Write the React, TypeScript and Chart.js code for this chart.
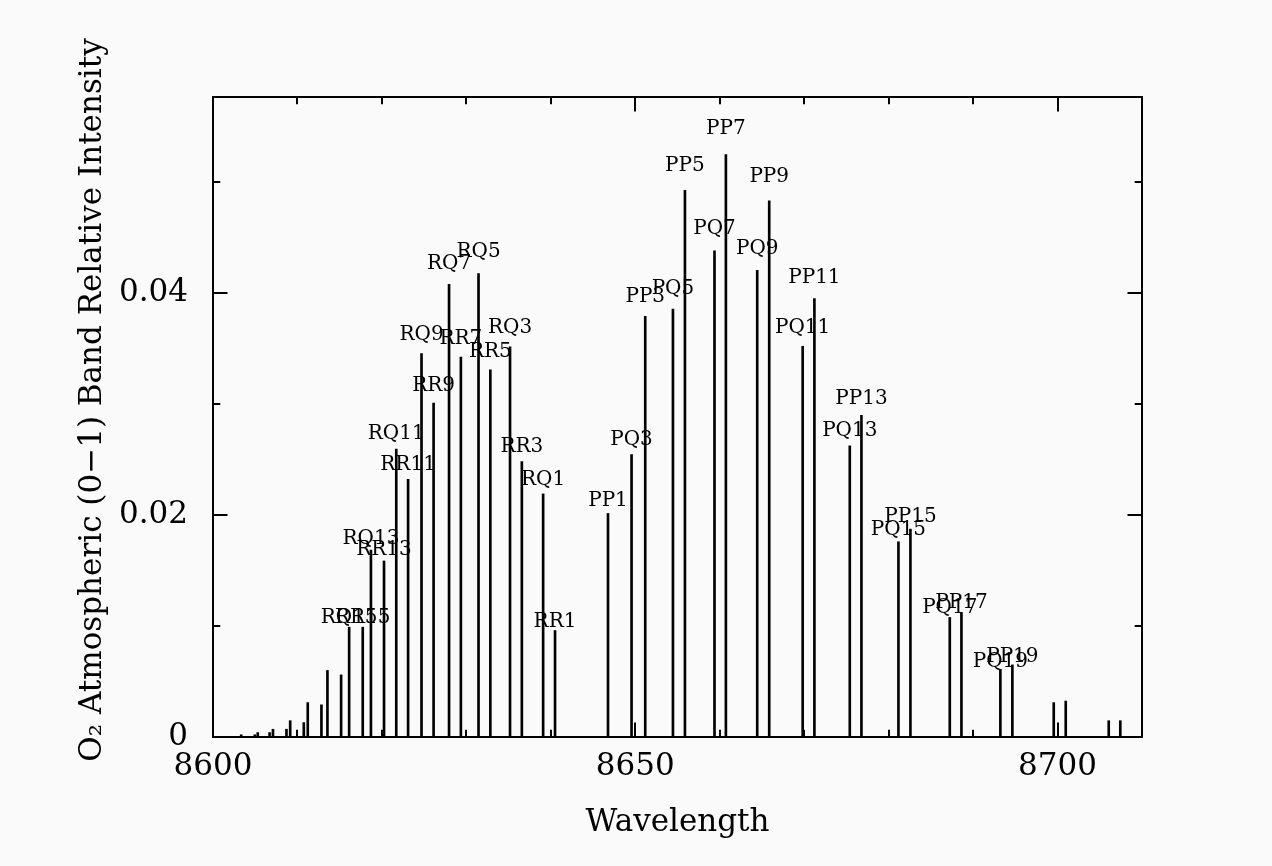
import React, { useEffect, useRef } from "react";
import { Chart, registerables } from "chart.js";

Chart.register(...registerables);

// Labelled rotational lines (wavelength in Å, relative intensity)
const lineWavelengths = [
  8616.12, 8617.73, 8618.70, 8620.25, 8621.70, 8623.10, 8624.69, 8626.12,
  8627.95, 8629.35, 8631.44, 8632.84, 8635.17, 8636.57, 8639.09, 8640.50,
  8646.77, 8649.56, 8651.18, 8654.46, 8655.88, 8659.38, 8660.73, 8664.44,
  8665.86, 8669.82, 8671.21, 8675.40, 8676.78, 8681.16, 8682.58, 8687.24,
  8688.62, 8693.23, 8694.65,
];
const lineIntensities = [
  0.0099, 0.0099, 0.01685, 0.01587, 0.02595, 0.02324, 0.03456, 0.0301,
  0.0408, 0.03426, 0.04177, 0.0331, 0.03517, 0.02484, 0.02192, 0.0096,
  0.02015, 0.02547, 0.03793, 0.03859, 0.04928, 0.04384, 0.0525, 0.04207,
  0.04835, 0.03523, 0.03952, 0.02625, 0.029, 0.0176, 0.01874, 0.01078,
  0.01123, 0.0061, 0.0065,
];
const lineLabels = [
  "RQ15", "RR15", "RQ13", "RR13", "RQ11", "RR11", "RQ9", "RR9",
  "RQ7", "RR7", "RQ5", "RR5", "RQ3", "RR3", "RQ1", "RR1",
  "PP1", "PQ3", "PP3", "PQ5", "PP5", "PQ7", "PP7", "PQ9",
  "PP9", "PQ11", "PP11", "PQ13", "PP13", "PQ15", "PP15", "PQ17",
  "PP17", "PQ19", "PP19",
];

// Weak unlabelled lines
const weakWavelengths = [
  8603.34, 8604.95, 8605.3, 8606.7, 8607.1, 8608.70, 8609.14, 8610.75,
  8611.22, 8612.84, 8613.55, 8615.17, 8699.55, 8700.97, 8706.06, 8707.43,
];
const weakIntensities = [
  0.0002, 0.0002, 0.0004, 0.0004, 0.0007, 0.0007, 0.00147, 0.0013,
  0.0031, 0.0029, 0.006, 0.0056, 0.0031, 0.00324, 0.00147, 0.00147,
];

const xTitle = "Wavelength";
const yTitle = "O₂ Atmospheric (0−1) Band Relative Intensity";

const FONT = "'DejaVu Serif', serif";

const framePlugin = {
  id: "framePlugin",
  beforeDraw(chart: any) {
    const { ctx, width, height } = chart;
    ctx.save();
    ctx.fillStyle = "#fafafa";
    ctx.fillRect(0, 0, width, height);
    ctx.restore();
  },
  afterDatasetsDraw(chart: any) {
    const { ctx } = chart;
    const meta = chart.getDatasetMeta(0);
    const yScale = chart.scales.y;
    ctx.save();
    ctx.fillStyle = "#000";
    ctx.font = `20px ${FONT}`;
    ctx.textAlign = "center";
    ctx.textBaseline = "alphabetic";
    meta.data.forEach((el: any, i: number) => {
      const py = yScale.getPixelForValue(lineIntensities[i] * 1.035);
      ctx.fillText(lineLabels[i], el.x, py);
    });
    ctx.restore();
  },
  afterDraw(chart: any) {
    const { ctx, chartArea } = chart;
    const { left, right, top, bottom } = chartArea;
    const xs = chart.scales.x;
    const ys = chart.scales.y;
    ctx.save();
    ctx.strokeStyle = "#000";
    ctx.lineWidth = 2;
    ctx.strokeRect(left, top, right - left, bottom - top);
    ctx.beginPath();
    xs.ticks.forEach((t: any) => {
      const px = Math.round(xs.getPixelForValue(t.value));
      const major = Math.round(t.value) % 50 === 0;
      const len = major ? 14.5 : 7.3;
      ctx.moveTo(px, bottom);
      ctx.lineTo(px, bottom - len);
      ctx.moveTo(px, top);
      ctx.lineTo(px, top + len);
    });
    ys.ticks.forEach((t: any) => {
      const py = Math.round(ys.getPixelForValue(t.value));
      const major = Math.round(t.value * 100) % 2 === 0;
      const len = major ? 14.5 : 7.3;
      ctx.moveTo(left, py);
      ctx.lineTo(left + len, py);
      ctx.moveTo(right, py);
      ctx.lineTo(right - len, py);
    });
    ctx.stroke();

    ctx.fillStyle = "#000";
    ctx.font = `31px ${FONT}`;
    ctx.textAlign = "center";
    ctx.textBaseline = "alphabetic";
    ctx.fillText(xTitle, (left + right) / 2, 831);

    ctx.translate(101, 400);
    ctx.rotate(-Math.PI / 2);
    ctx.fillText(yTitle, 0, 0);
    ctx.restore();
  },
};

export default function App() {
  const ref = useRef<HTMLCanvasElement>(null);
  useEffect(() => {
    if (!ref.current) return;
    const chart = new Chart(ref.current, {
      type: "bar",
      data: {
        datasets: [
          {
            data: lineWavelengths.map((w, i) => ({ x: w, y: lineIntensities[i] })),
            backgroundColor: "#000",
            borderWidth: 0,
            barThickness: 2,
            grouped: false,
          } as any,
          {
            data: weakWavelengths.map((w, i) => ({ x: w, y: weakIntensities[i] })),
            backgroundColor: "#000",
            borderWidth: 0,
            barThickness: 2,
            grouped: false,
          } as any,
        ],
      },
      options: {
        responsive: false,
        animation: false,
        layout: { padding: { left: 0, right: 130, top: 97, bottom: 0 } },
        plugins: { legend: { display: false }, tooltip: { enabled: false } },
        scales: {
          x: {
            type: "linear",
            min: 8600,
            max: 8710,
            offset: false,
            grid: { display: false, drawTicks: false, offset: false },
            border: { display: false },
            ticks: {
              stepSize: 10,
              autoSkip: false,
              maxRotation: 0,
              padding: 11,
              color: "#000",
              font: { family: FONT, size: 31 },
              callback: (v: any) => (Math.round(v) % 50 === 0 ? String(Math.round(v)) : ""),
            },
            afterFit: (s: any) => {
              s.height = 129;
            },
          },
          y: {
            type: "linear",
            min: 0,
            max: 0.0577,
            grid: { display: false, drawTicks: false },
            border: { display: false },
            ticks: {
              stepSize: 0.01,
              includeBounds: false,
              autoSkip: false,
              padding: 25,
              color: "#000",
              font: { family: FONT, size: 31 },
              callback: (v: any) => {
                const r = Math.round(v * 100);
                if (r % 2 !== 0) return "";
                return r === 0 ? "0" : (r / 100).toFixed(2);
              },
            },
            afterFit: (s: any) => {
              s.width = 213;
            },
          },
        },
      } as any,
      plugins: [framePlugin],
    });
    return () => chart.destroy();
  }, []);
  return (
    <div style={{ position: "absolute", left: 0, top: 0, width: 1272, height: 866 }}>
      <canvas ref={ref} width={1272} height={866} style={{ display: "block" }} />
    </div>
  );
}
